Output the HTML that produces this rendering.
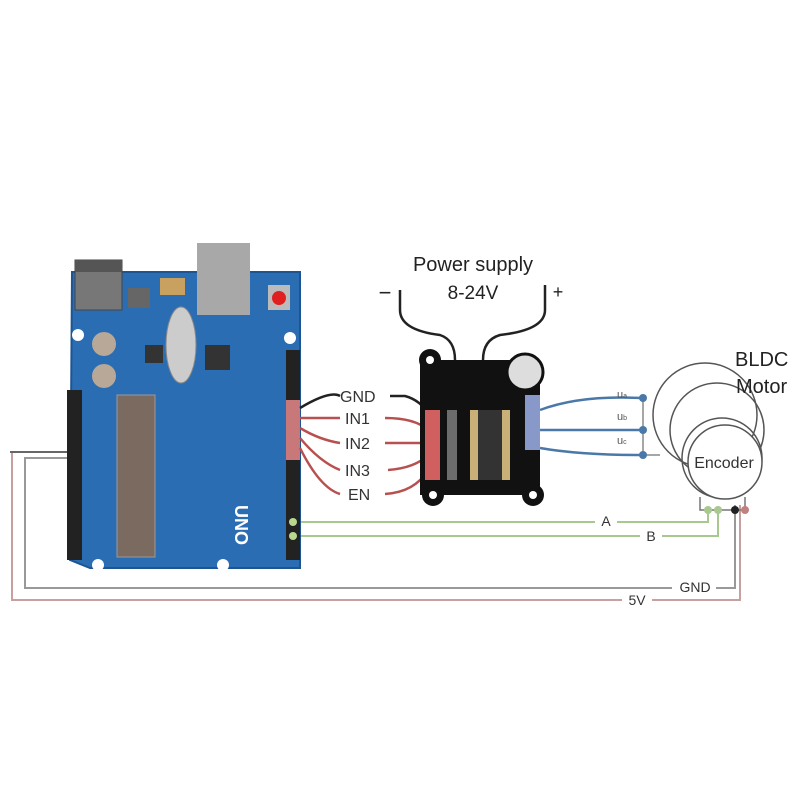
<!DOCTYPE html>
<html><head><style>
html,body{margin:0;padding:0;background:#fff;}
svg{display:block;}
text{font-family:"Liberation Sans",sans-serif;}
</style></head><body>
<svg width="800" height="800" viewBox="0 0 800 800" xmlns="http://www.w3.org/2000/svg">
<rect width="800" height="800" fill="#fff"/>
<!-- left wires -->
<path d="M82,452 H12 V600 H740 V505" fill="none" stroke="#c9a0a0" stroke-width="2"/>
<path d="M82,458 H25 V588 H735 V505" fill="none" stroke="#999" stroke-width="2"/>
<path d="M10,452 H80" stroke="#666" stroke-width="2"/>
<!-- green wires -->
<path d="M295,522 H708 V508" fill="none" stroke="#a8c890" stroke-width="2"/>
<path d="M295,536 H718 V508" fill="none" stroke="#a8c890" stroke-width="2"/>
<!-- Arduino -->
<path d="M72,272 H300 V568 H90 L70,560 Z" fill="#2b6db3" stroke="#1d5592" stroke-width="2"/>
<rect x="75" y="260" width="47" height="50" fill="#777" stroke="#444"/>
<rect x="75" y="260" width="47" height="12" fill="#555"/>
<rect x="197" y="243" width="53" height="72" fill="#a8a8a8"/>
<rect x="160" y="278" width="25" height="17" fill="#c8a060"/>
<rect x="268" y="285" width="22" height="25" fill="#bbb"/>
<circle cx="279" cy="298" r="7" fill="#e02020"/>
<rect x="128" y="288" width="22" height="20" fill="#666"/>
<circle cx="104" cy="344" r="12" fill="#b8a898"/>
<circle cx="104" cy="376" r="12" fill="#b8a898"/>
<ellipse cx="181" cy="345" rx="15" ry="38" fill="#ccc" stroke="#888"/>
<rect x="145" y="345" width="18" height="18" fill="#333"/>
<rect x="205" y="345" width="25" height="25" fill="#333"/>
<rect x="117" y="395" width="38" height="162" fill="#7a6a60" stroke="#999"/>
<circle cx="78" cy="335" r="6" fill="#fff"/>
<circle cx="290" cy="338" r="6" fill="#fff"/>
<circle cx="98" cy="565" r="6" fill="#fff"/>
<circle cx="223" cy="565" r="6" fill="#fff"/>
<rect x="67" y="390" width="15" height="170" fill="#222"/>
<rect x="286" y="350" width="14" height="210" fill="#222"/>
<rect x="286" y="400" width="14" height="60" fill="#c87878"/>
<circle cx="293" cy="522" r="4" fill="#b8d890"/>
<circle cx="293" cy="536" r="4" fill="#b8d890"/>
<text x="235" y="505" font-size="18" fill="#fff" transform="rotate(90 235 505)" font-weight="bold">UNO</text>
<!-- driver wires -->
<g fill="none" stroke-width="2.5">
<path d="M390,396 H405 Q420,400 430,415" stroke="#222"/>
<path d="M300,408 Q330,390 340,396" stroke="#222"/>
<path d="M300,418 Q320,418 340,418 M385,418 Q415,418 428,430" stroke="#b85050"/>
<path d="M300,428 Q320,440 340,443 M385,443 H428" stroke="#b85050"/>
<path d="M300,438 Q320,462 340,470 M388,470 Q415,468 428,455" stroke="#b85050"/>
<path d="M300,448 Q320,488 340,494 M385,494 Q415,492 428,470" stroke="#b85050"/>
<path d="M400,290 V310 Q400,330 440,335 Q455,340 455,360" stroke="#222"/>
<path d="M545,285 V310 Q545,330 500,335 Q483,340 483,360" stroke="#222"/>
<path d="M540,410 Q580,395 640,398" stroke="#4a78a8"/>
<path d="M540,430 H640" stroke="#4a78a8"/>
<path d="M540,448 Q580,455 640,455" stroke="#4a78a8"/>
</g>
<text x="340" y="402" font-size="16" fill="#333">GND</text>
<text x="345" y="424" font-size="16" fill="#333">IN1</text>
<text x="345" y="449" font-size="16" fill="#333">IN2</text>
<text x="345" y="476" font-size="16" fill="#333">IN3</text>
<text x="348" y="500" font-size="16" fill="#333">EN</text>
<text x="473" y="271" font-size="20" fill="#222" text-anchor="middle">Power supply</text>
<text x="473" y="299" font-size="19" fill="#222" text-anchor="middle">8-24V</text>
<text x="385" y="300" font-size="22" fill="#222" text-anchor="middle">−</text>
<text x="558" y="298" font-size="18" fill="#222" text-anchor="middle">+</text>
<!-- driver board -->
<path d="M420,360 H540 V495 H420 Z" fill="#111"/>
<circle cx="430" cy="360" r="11" fill="#111"/><circle cx="430" cy="360" r="4" fill="#fff"/>
<circle cx="433" cy="495" r="11" fill="#111"/><circle cx="433" cy="495" r="4" fill="#fff"/>
<circle cx="533" cy="495" r="11" fill="#111"/><circle cx="533" cy="495" r="4" fill="#fff"/>
<circle cx="525" cy="372" r="18" fill="#ddd" stroke="#111" stroke-width="3"/>
<rect x="425" y="410" width="15" height="70" fill="#d06060"/>
<rect x="447" y="410" width="10" height="70" fill="#aaa" opacity=".6"/>
<rect x="470" y="410" width="40" height="70" fill="#c8b078"/>
<rect x="478" y="410" width="24" height="70" fill="#333"/>
<rect x="525" y="395" width="15" height="55" fill="#8898c8"/>
<!-- motor -->
<circle cx="705" cy="415" r="52" fill="#fff" stroke="#555" stroke-width="1.5"/>
<circle cx="717" cy="430" r="47" fill="none" stroke="#555" stroke-width="1.5"/>
<circle cx="722" cy="458" r="40" fill="none" stroke="#555" stroke-width="1.5"/>
<circle cx="725" cy="462" r="37" fill="#fff" stroke="#555" stroke-width="1.5"/>
<text x="724" y="468" font-size="16" fill="#333" text-anchor="middle">Encoder</text>
<path d="M700,497 V510 H745 V497" fill="none" stroke="#777" stroke-width="1.5"/>
<circle cx="708" cy="510" r="4" fill="#a8c890"/><circle cx="718" cy="510" r="4" fill="#a8c890"/>
<circle cx="735" cy="510" r="4" fill="#222"/><circle cx="745" cy="510" r="4" fill="#c08080"/>
<path d="M643,398 V455 H660" fill="none" stroke="#888" stroke-width="1.5"/>
<circle cx="643" cy="398" r="4" fill="#4a78a8"/><circle cx="643" cy="430" r="4" fill="#4a78a8"/><circle cx="643" cy="455" r="4" fill="#4a78a8"/>
<text x="617" y="398" font-size="11" fill="#555">u<tspan font-size="7">a</tspan></text>
<text x="617" y="420" font-size="11" fill="#555">u<tspan font-size="7">b</tspan></text>
<text x="617" y="444" font-size="11" fill="#555">u<tspan font-size="7">c</tspan></text>
<text x="735" y="366" font-size="20" fill="#222">BLDC</text>
<text x="736" y="393" font-size="20" fill="#222">Motor</text>
<!-- line labels -->
<rect x="595" y="513" width="22" height="16" fill="#fff"/>
<text x="606" y="526" font-size="14" fill="#333" text-anchor="middle">A</text>
<rect x="640" y="528" width="22" height="16" fill="#fff"/>
<text x="651" y="541" font-size="14" fill="#333" text-anchor="middle">B</text>
<rect x="672" y="579" width="44" height="16" fill="#fff"/>
<text x="695" y="592" font-size="14" fill="#333" text-anchor="middle">GND</text>
<rect x="622" y="592" width="30" height="16" fill="#fff"/>
<text x="637" y="605" font-size="14" fill="#333" text-anchor="middle">5V</text>
</svg>
</body></html>
